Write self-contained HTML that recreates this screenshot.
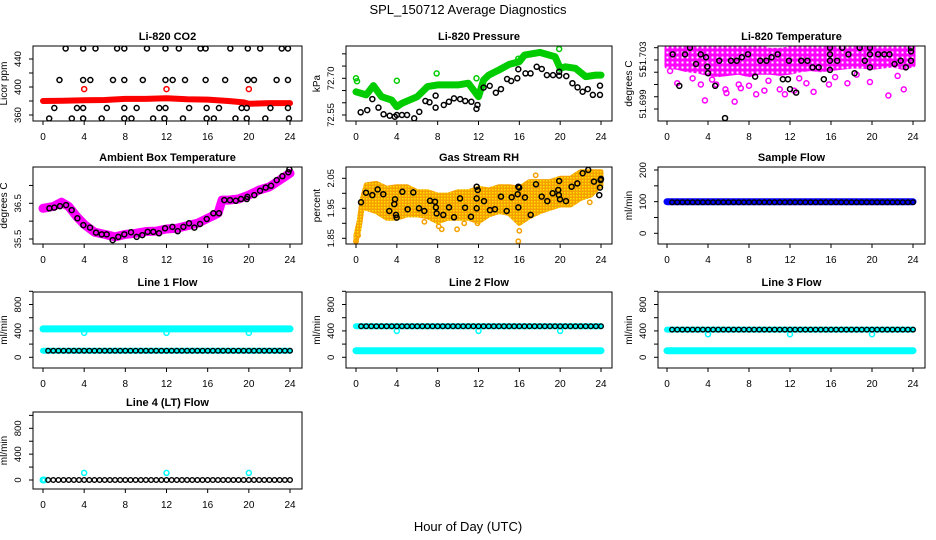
<!DOCTYPE html>
<html><head><meta charset="utf-8"><style>
html,body{margin:0;padding:0;background:#fff;}
svg{display:block;font-family:"Liberation Sans",Arial,sans-serif;}
</style></head><body>
<svg id="chart" width="936" height="540" viewBox="0 0 936 540" xmlns="http://www.w3.org/2000/svg">
<text x="468" y="14" text-anchor="middle" font-size="13">SPL_150712  Average Diagnostics</text>
<text x="468" y="531" text-anchor="middle" font-size="13">Hour of Day (UTC)</text>
</svg>
<script>
// ---------- data ----------
const xTicks = [0,4,8,12,16,20,24];
const halfHours = [0.5,1,1.5,2,2.5,3,3.5,4,4.5,5,5.5,6,6.5,7,7.5,8,8.5,9,9.5,10,10.5,11,11.5,12,12.5,13,13.5,14,14.5,15,15.5,16,16.5,17,17.5,18,18.5,19,19.5,20,20.5,21,21.5,22,22.5,23,23.5,24];
const hours = [0,1,2,3,4,5,6,7,8,9,10,11,12,13,14,15,16,17,18,19,20,21,22,23,24];

// CO2
const co2RedHours = [0,2,4,6,8,10,12,14,16,18,19.5,20,22,24];
const co2Red = [380,380.5,381,381.5,383,383,384,382.5,382,380,378,376,377,377];
const co2RedOutX = [4,12,20];
const co2RedOutY = [397,397,397];
const co2BlackX = [2.2,3.9,5.1,7.2,7.9,10.1,11.9,13.2,15.3,15.8,18.2,19.9,21.1,23.2,23.8,
 1.6,3.9,4.6,6.8,7.9,9.7,11.9,12.6,13.8,15.8,17.7,19.9,20.5,22.7,23.8,
 1.1,3.3,3.9,6.2,7.9,9.1,11.3,11.9,14.2,15.9,17.1,19.3,19.8,22.1,23.8,
 0.6,2.8,3.9,5.7,7.9,8.6,10.7,11.8,13.6,15.9,16.6,18.7,19.8,21.6,23.9];
const co2BlackY = [455,455,455,455,455,455,455,455,455,455,455,455,455,455,455,
 410,410,410,410,410,410,410,410,410,410,410,410,410,410,410,
 370,370,370,370,370,370,370,370,370,370,370,370,370,370,370,
 355,355,355,355,355,355,355,355,355,355,355,355,355,355,355];

// Pressure
const presGreenX = [0,1,1.7,2.5,3.5,4,4.5,6,7,8,10,11,12,12.5,13,14,15,16,16.5,18,19.5,20,20.5,21.5,22.5,23.5,24];
const presGreen = [72.645,72.632,72.670,72.625,72.611,72.584,72.598,72.625,72.666,72.673,72.673,72.680,72.625,72.693,72.713,72.734,72.757,72.768,72.795,72.806,72.788,72.741,72.747,72.741,72.707,72.713,72.713];
const presBlackX = [0.46,1.1,1.6,2.2,2.7,3.3,3.8,4.0,4.5,5.0,5.7,6.2,6.8,7.2,7.8,7.8,8.6,9.1,9.6,10.2,10.7,11.3,11.8,11.9,12.5,13.1,13.7,14.2,14.8,15.2,15.8,15.9,16.6,17.1,17.7,18.2,18.7,19.3,19.9,19.9,20.6,21.2,21.7,22.2,22.7,23.2,23.9,23.9];
const presBlackY = [72.561,72.570,72.615,72.580,72.553,72.547,72.543,72.55,72.55,72.55,72.536,72.563,72.607,72.602,72.580,72.629,72.591,72.604,72.618,72.615,72.607,72.604,72.575,72.591,72.662,72.669,72.641,72.656,72.697,72.689,72.700,72.737,72.720,72.720,72.747,72.738,72.713,72.713,72.711,72.727,72.709,72.680,72.663,72.645,72.656,72.632,72.632,72.670];

// Li-820 temperature
const tempMagX = [0,1,2,3,4,5,6,7,8,9,10,11,12,13,14,15,16,17,18,19,20,21,22,23,24];
const tempMagHi = [51.7030,51.7030,51.7030,51.7030,51.7030,51.7030,51.7030,51.7030,51.7030,51.7030,51.7028,51.7028,51.7029,51.7030,51.7030,51.7030,51.7030,51.7030,51.7030,51.7030,51.7030,51.7030,51.7030,51.7030,51.7030];
const tempMagLo = [51.7015,51.7014,51.7012,51.7011,51.7009,51.7008,51.7009,51.7010,51.7008,51.7010,51.7010,51.7009,51.7010,51.7012,51.7013,51.7012,51.7013,51.7014,51.7015,51.7015,51.7014,51.7015,51.7016,51.7014,51.7016];
const tempMagOutX = [1.0,3.3,4.8,5.8,6.6,7.2,8.0,8.7,9.5,11.0,11.5,12.4,13.6,14.3,15.8,17.6,19.8,21.6,23.1,5.7,3.7,7.0,2.5,0.3,4.4,9.9,12.9,16.4,18.5,22.5];
const tempMagOutY = [51.7001,51.7000,51.7000,51.6993,51.6986,51.6997,51.6999,51.6992,51.6995,51.6996,51.6992,51.6995,51.7001,51.6994,51.7000,51.7001,51.7002,51.6991,51.6996,51.6996,51.6987,51.7000,51.7005,51.7011,51.7004,51.7003,51.7005,51.7006,51.7008,51.7007];
const tempBlackX = [0.55,1.2,1.76,2.24,2.83,3.29,3.8,3.93,4.0,4.7,5.1,5.66,6.24,6.8,7.3,7.9,8.6,9.1,9.7,10.2,10.8,11.3,11.8,11.9,12.0,12.6,13.1,13.7,14.2,14.8,15.3,15.9,15.9,15.9,15.9,16.6,17.1,17.7,18.3,18.8,19.3,19.8,19.8,19.8,20.6,21.2,21.7,22.2,22.8,23.3,23.8,23.8,23.8];
const tempBlackY = [51.70246,51.69989,51.70246,51.7030,51.70167,51.70246,51.70222,51.70146,51.70092,51.69989,51.70194,51.69726,51.70194,51.70194,51.70222,51.70246,51.70064,51.70194,51.70194,51.70222,51.70246,51.70043,51.70043,51.70194,51.69962,51.69934,51.70194,51.70194,51.70140,51.70140,51.70043,51.7030,51.70246,51.70194,51.70119,51.70194,51.7030,51.70246,51.70092,51.7030,51.70194,51.7030,51.70246,51.70140,51.70246,51.70246,51.70246,51.70167,51.70194,51.70140,51.7030,51.7027,51.70194];

// Ambient box temperature
const ambMagX = [0,1,1.8,2.5,3.3,4,5,6,7,8,9,10,11,12,13,14,15,16,17,17.4,18,19,20,21,22,23,24];
const ambMag = [36.36,36.41,36.53,36.41,36.12,35.91,35.69,35.63,35.56,35.63,35.66,35.71,35.72,35.78,35.80,35.87,35.94,36.08,36.22,36.59,36.59,36.62,36.73,36.87,36.96,37.15,37.34];
const ambBlackX = [0.62,1.10,1.65,2.24,2.79,3.34,3.92,4.57,5.15,5.70,6.19,6.77,7.32,7.90,8.55,9.10,9.65,10.17,10.72,11.27,11.86,12.57,13.09,13.64,14.19,14.71,15.26,15.91,16.55,17.1,17.62,18.17,18.73,19.24,19.80,19.86,20.53,21.09,21.64,22.16,22.71,23.26,23.84,23.94];
const ambBlackY = [36.36,36.38,36.42,36.45,36.31,36.08,35.89,35.82,35.68,35.63,35.63,35.47,35.56,35.63,35.69,35.56,35.61,35.70,35.70,35.66,35.80,35.84,35.72,35.84,35.94,35.82,35.92,36.06,36.22,36.22,36.59,36.59,36.57,36.62,36.62,36.68,36.73,36.85,36.94,36.99,37.15,37.26,37.37,37.45];

// Gas stream RH
const rhBandX = [0,0.3,0.6,1,2,3,4,5,6,7,8,9,10,11,12,13,14,15,16,17,18,19,20,21,22,23,24];
const rhHi = [1.861,1.905,1.978,2.028,2.033,2.017,2.022,2.022,2.005,2.005,1.994,1.994,2.005,2.005,2.017,2.011,2.022,2.022,2.017,2.039,2.039,2.039,2.05,2.05,2.072,2.072,2.072];
const rhLo = [1.839,1.883,1.95,1.95,1.939,1.917,1.917,1.928,1.928,1.922,1.905,1.917,1.917,1.917,1.905,1.928,1.939,1.933,1.9,1.922,1.939,1.95,1.961,1.961,1.983,1.994,2.028];
const rhOutX = [0,0.2,6.7,8.1,8.4,9.9,10.6,11.9,15.9,16.0,17.6,22.9];
const rhOutY = [1.84,1.86,1.905,1.89,1.88,1.88,1.90,1.90,1.84,1.875,2.06,1.97];
const rhBlackX = [0.49,0.98,1.60,2.12,2.67,3.26,3.75,3.82,3.92,3.98,4.54,5.06,5.61,6.17,6.69,7.25,7.74,7.83,7.90,8.55,9.11,9.60,10.19,10.68,11.26,11.82,11.82,11.82,11.92,12.54,13.12,13.61,14.20,14.76,15.25,15.84,15.90,15.98,15.90,16.55,17.11,17.63,18.19,18.74,19.26,19.81,19.87,19.9,19.98,20.57,21.12,21.68,22.2,22.75,23.31,23.83,23.9,23.96,24.0];
const rhBlackY = [1.970,2.002,1.994,2.013,1.997,1.941,1.964,1.980,1.928,1.919,2.005,1.947,2.003,1.95,1.941,1.975,1.972,1.953,1.933,1.928,1.953,1.92,1.983,1.952,1.922,1.95,1.983,2.022,2.011,1.974,1.944,1.947,1.989,1.941,1.987,1.997,2.022,2.019,1.953,1.986,1.928,2.03,1.989,1.974,2.0,2.011,1.994,2.041,1.980,1.974,2.022,2.033,2.067,2.078,2.039,1.994,2.019,2.044,2.048];

// Flows
const sampleBlue = [100,100,100,100,100,100,100,100,100,100,100,100,100,100,100,100,100,100,100,100,100,100,100,100,100];
const sampleBlack = [98,98,98,98,98,98,98,98,98,98,98,98,98,98,98,98,98,98,98,98,98,98,98,98,98,98,98,98,98,98,98,98,98,98,98,98,98,98,98,98,98,98,98,98,98,98,98,98];
const line1Cyan = [430,430,430,430,430,430,430,430,430,430,430,430,430,430,430,430,430,430,430,430,430,430,430,430,430];
const line1Cyan2 = [100,100,100,100,100,100,100,100,100,100,100,100,100,100,100,100,100,100,100,100,100,100,100,100,100];
const line1Black = [100,100,100,100,100,100,100,100,100,100,100,100,100,100,100,100,100,100,100,100,100,100,100,100,100,100,100,100,100,100,100,100,100,100,100,100,100,100,100,100,100,100,100,100,100,100,100,100];
const line2Cyan = [100,100,100,100,100,100,100,100,100,100,100,100,100,100,100,100,100,100,100,100,100,100,100,100,100];
const line2Cyan2 = [470,470,470,470,470,470,470,470,470,470,470,470,470,470,470,470,470,470,470,470,470,470,470,470,470];
const line2Black = [470,470,470,470,470,470,470,470,470,470,470,470,470,470,470,470,470,470,470,470,470,470,470,470,470,470,470,470,470,470,470,470,470,470,470,470,470,470,470,470,470,470,470,470,470,470,470,470];
const line3Cyan = [100,100,100,100,100,100,100,100,100,100,100,100,100,100,100,100,100,100,100,100,100,100,100,100,100];
const line3Cyan2 = [420,420,420,420,420,420,420,420,420,420,420,420,420,420,420,420,420,420,420,420,420,420,420,420,420];
const line3Black = [420,420,420,420,420,420,420,420,420,420,420,420,420,420,420,420,420,420,420,420,420,420,420,420,420,420,420,420,420,420,420,420,420,420,420,420,420,420,420,420,420,420,420,420,420,420,420,420];
const line4Black = [0,0,0,0,0,0,0,0,0,0,0,0,0,0,0,0,0,0,0,0,0,0,0,0,0,0,0,0,0,0,0,0,0,0,0,0,0,0,0,0,0,0,0,0,0,0,0,0];
const flowOutX = [4,12,20];
const line1OutY = [370,370,370];
const line2OutY = [400,400,400];
const line3OutY = [350,350,350];
const line4OutY = [110,110,110];

// ---------- drawing ----------
const NS = 'http://www.w3.org/2000/svg';
const svg = document.getElementById('chart');
function mk(tag, attrs, parent){
  const e = document.createElementNS(NS, tag);
  for (const k in attrs) e.setAttribute(k, attrs[k]);
  (parent || svg).appendChild(e);
  return e;
}
const cols = [
  {bx0:33, bx1:302, p0:43, p24:290},
  {bx0:346, bx1:612, p0:356, p24:601},
  {bx0:658, bx1:925, p0:667, p24:913}
];
const rows = [{t:46,b:121},{t:167,b:244},{t:292,b:368},{t:412,b:489}];

function makePanel(name, title, ci, ri, v1, py1, v2, py2, yTicks, yLabels, yTitle){
  const c = cols[ci], r = rows[ri];
  const g = mk('g', {});
  
  
  const xs = h => c.p0 + (c.p24 - c.p0) * h / 24;
  const ys = v => py1 + (v - v1) * (py2 - py1) / (v2 - v1);
  const clipId = 'clip-' + name;
  const cp = mk('clipPath', {id: clipId}, g);
  mk('rect', {x:c.bx0, y:r.t, width:c.bx1-c.bx0, height:r.b-r.t}, cp);
  const plot = mk('g', {'clip-path':'url(#'+clipId+')'}, g);
  
  
  const tt = mk('text', {x:(c.bx0+c.bx1)/2, y:r.t-6, 'text-anchor':'middle', 'font-size':'11', 'font-weight':'bold'}, g);
  tt.textContent = title;
  
  
  const xa = mk('g', {}, g);
  
  
  xTicks.forEach(t => {
    const x = xs(t);
    mk('line', {x1:x, x2:x, y1:r.b, y2:r.b+4, stroke:'#000', 'stroke-width':1}, xa);
    const lb = mk('text', {x:x, y:r.b+19, 'text-anchor':'middle', 'font-size':'10'}, xa);
    lb.textContent = t;
    
    
  });
  const ya = mk('g', {}, g);
  
  
  yTicks.forEach(t => {
    const y = ys(t);
    mk('line', {x1:c.bx0-4, x2:c.bx0, y1:y, y2:y, stroke:'#000', 'stroke-width':1}, ya);
  });
  yLabels.forEach(l => {
    const y = (l.py !== undefined) ? l.py : ys(l.v);
    const lx = c.bx0 - 12;
    const lb = mk('text', {x:lx, y:y, 'text-anchor':'middle', 'font-size':'9.5', transform:'rotate(-90 '+lx+' '+y+')'}, ya);
    lb.textContent = l.t;
    
    
  });
  const tx = c.bx0 - 26, ty = (r.t + r.b) / 2;
  const yt = mk('text', {x:tx, y:ty, 'text-anchor':'middle', 'font-size':'10', transform:'rotate(-90 '+tx+' '+ty+')'}, g);
  yt.textContent = yTitle;
  
  
  return {g, plot, xs, ys, box: () => {
    const b = mk('rect', {x:c.bx0, y:r.t, width:c.bx1-c.bx0, height:r.b-r.t, fill:'none', stroke:'#000', 'stroke-width':1}, g);
    
    
  }};
}
function pts(P, xsArr, ysArr, color, r, sw, label){
  const grp = mk('g', {}, P.plot);
  
  
  xsArr.forEach((h, i) => {
    const c = mk('circle', {cx:P.xs(h), cy:P.ys(ysArr[i]), r:r, fill:'none', stroke:color, 'stroke-width':sw}, grp);
    
    
  });
}
function band(P, xsArr, ysArr, color, w, label){
  const d = xsArr.map((h, i) => (i ? 'L' : 'M') + P.xs(h).toFixed(1) + ' ' + P.ys(ysArr[i]).toFixed(1)).join(' ');
  const p = mk('path', {d:d, fill:'none', stroke:color, 'stroke-width':w, 'stroke-linejoin':'round', 'stroke-linecap':'round'}, P.plot);
  
  
}
function area(P, xsArr, hi, lo, color, label){
  let d = xsArr.map((h, i) => (i ? 'L' : 'M') + P.xs(h).toFixed(1) + ' ' + P.ys(hi[i]).toFixed(1)).join(' ');
  for (let i = xsArr.length - 1; i >= 0; i--) d += ' L' + P.xs(xsArr[i]).toFixed(1) + ' ' + P.ys(lo[i]).toFixed(1);
  d += ' Z';
  const p = mk('path', {d:d, fill:color, stroke:color, 'stroke-width':5, 'stroke-linejoin':'round'}, P.plot);
  
  
}

const defs = mk('defs', {});
const pat = mk('pattern', {id:'rhpat', width:3, height:3, patternUnits:'userSpaceOnUse'}, defs);
mk('rect', {x:0, y:0, width:3, height:3, fill:'#f5a000'}, pat);
mk('rect', {x:0, y:0, width:1.5, height:1.5, fill:'#ffe000'}, pat);
const pat2 = mk('pattern', {id:'magpat', width:5, height:5, patternUnits:'userSpaceOnUse'}, defs);
mk('rect', {x:0, y:0, width:5, height:5, fill:'#ff00ff'}, pat2);
mk('rect', {x:1.5, y:1.5, width:2, height:2, fill:'#ffffff'}, pat2);

// 1 CO2
let P = makePanel('co2', 'Li-820 CO2', 0, 0, 360, 115, 440, 59, [360,380,400,420,440], [{v:360,t:'360'},{v:400,t:'400'},{v:440,t:'440'}], 'Licor ppm');
band(P, co2RedHours, co2Red, '#ff0000', 6, 'co2-red-band');
pts(P, co2RedOutX, co2RedOutY, '#ff0000', 2.5, 1.5, 'co2-red-outliers');
pts(P, co2BlackX, co2BlackY, '#000', 2.5, 1.5, 'co2-black-points');
P.box();

// 2 Pressure
P = makePanel('pressure', 'Li-820 Pressure', 1, 0, 72.55, 115, 72.70, 78.3, [72.55,72.60,72.65,72.70,72.75,72.80], [{v:72.55,t:'72.55'},{v:72.70,t:'72.70'}], 'kPa');
band(P, presGreenX, presGreen, '#00cc00', 7, 'pressure-green-band');
pts(P, [0,0.1,4,7.9,11.8,15.9,19.9], [72.700,72.688,72.690,72.720,72.700,72.780,72.820], '#00cc00', 2.5, 1.5, 'pressure-green-outliers');
pts(P, presBlackX, presBlackY, '#000', 2.5, 1.5, 'pressure-black-points');
P.box();

// 3 Temperature
P = makePanel('li820-temp', 'Li-820 Temperature', 2, 0, 51.703, 47.7, 51.698, 109, [51.698,51.699,51.700,51.701,51.702,51.703], [{py:56,t:'51.703'},{py:72,t:'51'},{py:104,t:'51.699'}], 'degrees C');
area(P, tempMagX, tempMagHi, tempMagLo, 'url(#magpat)', 'li820-temp-magenta-band');
pts(P, tempMagOutX, tempMagOutY, '#ff00ff', 2.5, 1.5, 'li820-temp-magenta-outliers');
pts(P, tempBlackX, tempBlackY, '#000', 2.5, 1.5, 'li820-temp-black-points');
P.box();

// 4 Ambient
P = makePanel('ambient-temp', 'Ambient Box Temperature', 0, 1, 36.5, 203.3, 35.5, 239, [35.5,36.0,36.5,37.0], [{v:35.5,t:'35.5'},{v:36.5,t:'36.5'}], 'degrees C');
band(P, ambMagX, ambMag, '#ff00ff', 9, 'ambient-magenta-band');
pts(P, ambBlackX, ambBlackY, '#000', 2.5, 1.5, 'ambient-black-points');
P.box();

// 5 RH
P = makePanel('rh', 'Gas Stream RH', 1, 1, 2.05, 178.3, 1.85, 238.3, [1.85,1.90,1.95,2.00,2.05], [{v:1.85,t:'1.85'},{v:1.95,t:'1.95'},{v:2.05,t:'2.05'}], 'percent');
area(P, rhBandX, rhHi, rhLo, 'url(#rhpat)', 'rh-orange-band');
pts(P, rhOutX, rhOutY, '#f5a000', 2.2, 1.5, 'rh-orange-outliers');
pts(P, rhBlackX, rhBlackY, '#000', 2.5, 1.5, 'rh-black-points');
P.box();

// 6 Sample flow
P = makePanel('sample-flow', 'Sample Flow', 2, 1, 0, 233.3, 200, 170, [0,50,100,150,200], [{v:0,t:'0'},{v:100,t:'100'},{v:200,t:'200'}], 'ml/min');
band(P, hours, sampleBlue, '#0000ff', 7, 'sample-blue-band');
pts(P, halfHours, sampleBlack, '#000', 2.3, 1.4, 'sample-black-points');
P.box();

const flowTicks = [0,200,400,600,800,1000];
const flowLabels = [{v:0,t:'0'},{v:400,t:'400'},{v:800,t:'800'}];
// 7 Line 1
P = makePanel('line1-flow', 'Line 1 Flow', 0, 2, 0, 357.3, 800, 304.5, flowTicks, flowLabels, 'ml/min');
band(P, hours, line1Cyan, '#00ffff', 7, 'line1-cyan-band');
band(P, hours, line1Cyan2, '#00ffff', 6, 'line1-cyan-low-band');
pts(P, flowOutX, line1OutY, '#00ffff', 2.5, 1.5, 'line1-cyan-outliers');
pts(P, halfHours, line1Black, '#000', 2.3, 1.4, 'line1-black-points');
P.box();

// 8 Line 2
P = makePanel('line2-flow', 'Line 2 Flow', 1, 2, 0, 357.3, 800, 304.5, flowTicks, flowLabels, 'ml/min');
band(P, hours, line2Cyan, '#00ffff', 7, 'line2-cyan-band');
band(P, hours, line2Cyan2, '#00ffff', 6, 'line2-cyan-high-band');
pts(P, flowOutX, line2OutY, '#00ffff', 2.5, 1.5, 'line2-cyan-outliers');
pts(P, halfHours, line2Black, '#000', 2.3, 1.4, 'line2-black-points');
P.box();

// 9 Line 3
P = makePanel('line3-flow', 'Line 3 Flow', 2, 2, 0, 357.3, 800, 304.5, flowTicks, flowLabels, 'ml/min');
band(P, hours, line3Cyan, '#00ffff', 7, 'line3-cyan-band');
band(P, hours, line3Cyan2, '#00ffff', 6, 'line3-cyan-high-band');
pts(P, flowOutX, line3OutY, '#00ffff', 2.5, 1.5, 'line3-cyan-outliers');
pts(P, halfHours, line3Black, '#000', 2.3, 1.4, 'line3-black-points');
P.box();

// 10 Line 4
P = makePanel('line4-flow', 'Line 4 (LT) Flow', 0, 3, 0, 480, 800, 428.3, flowTicks, flowLabels, 'ml/min');
pts(P, [0,0.1], [0,0], '#00ffff', 2.5, 2, 'line4-cyan-start');
pts(P, flowOutX, line4OutY, '#00ffff', 2.5, 1.5, 'line4-cyan-outliers');
pts(P, halfHours, line4Black, '#000', 2.3, 1.4, 'line4-black-points');
P.box();
</script>
</body></html>
